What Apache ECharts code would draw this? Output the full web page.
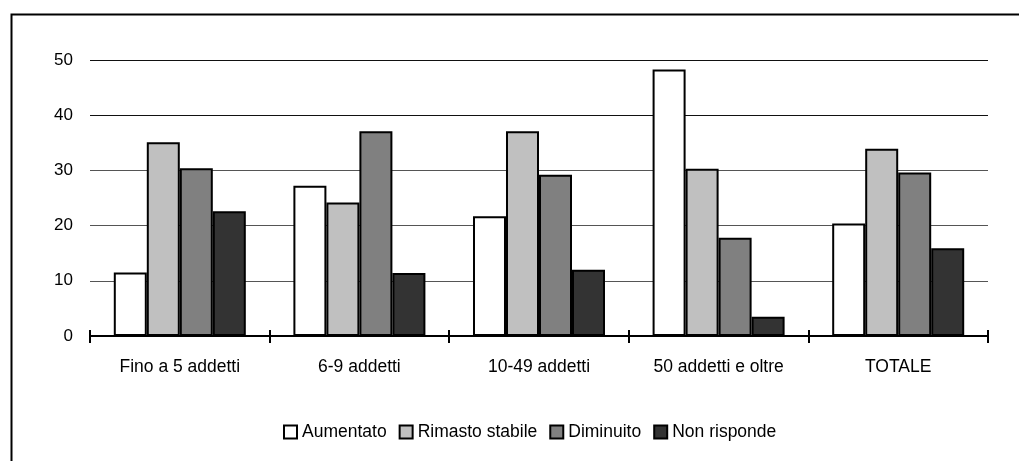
<!DOCTYPE html>
<html>
<head>
<meta charset="utf-8">
<script src="https://cdn.jsdelivr.net/npm/echarts@6/dist/echarts.min.js"></script>
<style>html,body{margin:0;padding:0;background:#fff;}#c{width:1019px;height:461px;}</style>
</head>
<body>
<div id="c"></div>
<script>
var categories = ['Fino a 5 addetti', '6-9 addetti', '10-49 addetti', '50 addetti e oltre', 'TOTALE'];
var seriesNames = ['Aumentato', 'Rimasto stabile', 'Diminuito', 'Non risponde'];
var aumentato = [11.5, 27.2, 21.7, 48.3, 20.4];
var rimastoStabile = [35.1, 24.2, 37.1, 30.3, 33.9];
var diminuito = [30.4, 37.1, 29.2, 17.8, 29.6];
var nonRisponde = [22.6, 11.4, 12.0, 3.5, 15.9];
var colors = ['#ffffff', '#c0c0c0', '#808080', '#333333'];

var font = '"Liberation Sans", Arial, sans-serif';
var allData = [aumentato, rimastoStabile, diminuito, nonRisponde];
var series = allData.map(function (d, i) {
  return {
    name: seriesNames[i],
    type: 'bar',
    data: d,
    xAxisIndex: 0,
    barGap: '0%',
    barCategoryGap: '26.5%',
    itemStyle: { color: colors[i], borderColor: '#000', borderWidth: 2 }
  };
});

var chart = echarts.init(document.getElementById('c'), null, { renderer: 'canvas' });
chart.setOption({
  animation: false,
  backgroundColor: '#fff',
  textStyle: { fontFamily: font, color: '#000' },
  graphic: [{
    type: 'rect', left: 9, top: 12, silent: true,
    shape: { width: 1100, height: 600 },
    style: { fill: 'none', stroke: '#000', lineWidth: 2 }
  }],
  grid: { left: 90, right: 31, top: 60, bottom: 125 },
  legend: {
    data: seriesNames,
    top: 418, left: 278,
    icon: 'rect', itemWidth: 13, itemHeight: 13, itemGap: 12,
    itemStyle: { borderColor: '#000', borderWidth: 2 },
    textStyle: { fontSize: 17.5, color: '#000', fontFamily: font }
  },
  xAxis: [{
    type: 'category', data: categories, position: 'bottom',
    axisLine: { lineStyle: { color: '#000', width: 2.2 } },
    axisTick: { show: true, length: 7, lineStyle: { color: '#000', width: 2 } },
    axisLabel: { fontSize: 17.5, color: '#000', margin: 22, interval: 0, fontFamily: font },
    splitLine: { show: false }
  }, {
    type: 'category', data: categories, position: 'bottom',
    axisLine: { show: false },
    axisTick: { show: true, inside: true, length: 6, lineStyle: { color: '#000', width: 2 } },
    axisLabel: { show: false },
    splitLine: { show: false }
  }],
  yAxis: {
    type: 'value', min: 0, max: 50, interval: 10,
    axisLine: { show: false },
    axisTick: { show: false },
    axisLabel: { fontSize: 17, color: '#000', margin: 17, fontFamily: font },
    splitLine: { lineStyle: { color: ['#555', '#555', '#555', '#555', '#111', '#111'], width: 1 } }
  },
  series: series
});
</script>
</body>
</html>
